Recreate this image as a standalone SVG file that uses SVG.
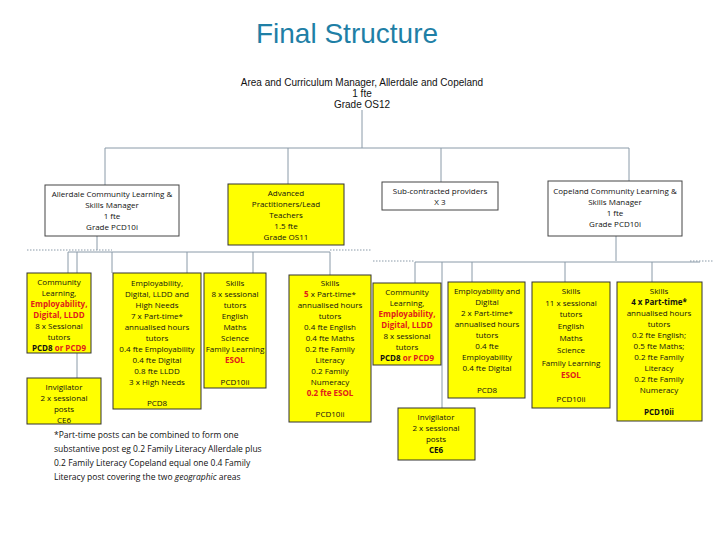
<svg xmlns="http://www.w3.org/2000/svg" width="720" height="540" viewBox="0 0 720 540">
<style>
text{font-family:"Open Sans","Liberation Sans",sans-serif;font-size:8px;fill:#111;text-anchor:middle}
.t{font-family:"Liberation Sans",sans-serif;font-size:28px;fill:#1f7fa6}
.h{font-family:"Liberation Sans",sans-serif;font-size:10px}
.r{fill:#e0201b;font-weight:bold}
.b{font-weight:bold}
.y{fill:#ffff00;stroke:#333;stroke-width:1}
.w{fill:#fff;stroke:#444;stroke-width:1}
.c{stroke:#8a9aa8;stroke-width:1;fill:none}
.d{stroke:#8a9aa8;stroke-width:1;stroke-dasharray:1.5 1.5;fill:none}
.f{text-anchor:start;font-size:8.5px}
</style>
<rect width="720" height="540" fill="#fff"/>
<text class="t" x="347" y="43">Final Structure</text>
<g id="connectors">
<path class="c" d="M362 110V148M105 148H629M105 148V185M288 148V184M441 148V182M629 148V181"/>
<path class="c" d="M97 236V250M68 252H330M68 252V273M77 252V378M112 252V273M187 252V273M253 252V273M330 252V275"/>
<path class="d" d="M27 250H112M330 250H372"/>
<path class="c" d="M616 236V261M415 262H700M415 262V283M442 262V408M472 262V282M565 262V282M652 262V282"/>
<path class="d" d="M373 261H415M690 261H713"/>
</g>
<g id="top"><text class="h" x="362" y="86">Area and Curriculum Manager, Allerdale and Copeland</text><text class="h" x="362" y="97">1 fte</text><text class="h" x="362" y="108">Grade OS12</text></g>
<g id="allerdale"><rect class="w" x="45" y="185" width="134" height="51"/><text x="112" y="197">Allerdale Community Learning &amp;</text><text x="112" y="208">Skills Manager</text><text x="112" y="219">1 fte</text><text x="112" y="230">Grade PCD10i</text></g>
<g id="advanced"><rect class="y" x="228" y="184" width="116" height="61"/><text x="286" y="196">Advanced</text><text x="286" y="207">Practitioners/Lead</text><text x="286" y="218">Teachers</text><text x="286" y="229">1.5 fte</text><text x="286" y="240">Grade OS11</text></g>
<g id="sub"><rect class="w" x="382" y="182" width="116" height="28"/><text x="440" y="194">Sub-contracted providers</text><text x="440" y="205">X 3</text></g>
<g id="copeland"><rect class="w" x="548" y="181" width="134" height="55"/><text x="615" y="194">Copeland Community Learning &amp;</text><text x="615" y="205">Skills Manager</text><text x="615" y="216">1 fte</text><text x="615" y="227">Grade PCD10i</text></g>
<g id="l1"><rect class="y" x="27" y="273" width="64" height="80"/><text x="59" y="285">Community</text><text x="59" y="296">Learning,</text><text x="59" y="307" class="r">Employability,</text><text x="59" y="318" class="r">Digital, LLDD</text><text x="59" y="329">8 x Sessional</text><text x="59" y="340">tutors</text><text x="59" y="351" class="b">PCD8 <tspan class="r">or PCD9</tspan></text></g>
<g id="l2"><rect class="y" x="113" y="273" width="88" height="136"/><text x="157" y="286">Employability,</text><text x="157" y="297">Digital, LLDD and</text><text x="157" y="308">High Needs</text><text x="157" y="319">7 x Part-time*</text><text x="157" y="330">annualised hours</text><text x="157" y="341">tutors</text><text x="157" y="352">0.4 fte Employability</text><text x="157" y="363">0.4 fte Digital</text><text x="157" y="374">0.8 fte LLDD</text><text x="157" y="385">3 x High Needs</text><text x="157" y="406">PCD8</text></g>
<g id="l3"><rect class="y" x="204" y="273" width="62" height="115"/><text x="235" y="286">Skills</text><text x="235" y="297">8 x sessional</text><text x="235" y="308">tutors</text><text x="235" y="319">English</text><text x="235" y="330">Maths</text><text x="235" y="341">Science</text><text x="235" y="352">Family Learning</text><text x="235" y="363" class="r">ESOL</text><text x="235" y="385">PCD10ii</text></g>
<g id="l4"><rect class="y" x="289" y="275" width="82" height="147"/><text x="330" y="286">Skills</text><text x="330" y="297"><tspan class="r">5</tspan> x Part-time*</text><text x="330" y="308">annualised hours</text><text x="330" y="319">tutors</text><text x="330" y="330">0.4 fte English</text><text x="330" y="341">0.4 fte Maths</text><text x="330" y="352">0.2 fte Family</text><text x="330" y="363">Literacy</text><text x="330" y="374">0.2 Family</text><text x="330" y="385">Numeracy</text><text x="330" y="396" class="r">0.2 fte ESOL</text><text x="330" y="417">PCD10ii</text></g>
<g id="l5"><rect class="y" x="27" y="378" width="74" height="46"/><text x="64" y="390">Invigilator</text><text x="64" y="401">2 x sessional</text><text x="64" y="412">posts</text><text x="64" y="423">CE6</text></g>
<g id="r1"><rect class="y" x="373" y="283" width="68" height="82"/><text x="407" y="295">Community</text><text x="407" y="306">Learning,</text><text x="407" y="317" class="r">Employability,</text><text x="407" y="328" class="r">Digital, LLDD</text><text x="407" y="339">8 x sessional</text><text x="407" y="350">tutors</text><text x="407" y="361" class="b">PCD8 <tspan class="r">or PCD9</tspan></text></g>
<g id="r2"><rect class="y" x="448" y="282" width="77" height="116"/><text x="487" y="294">Employability and</text><text x="487" y="305">Digital</text><text x="487" y="316">2 x Part-time*</text><text x="487" y="327">annualised hours</text><text x="487" y="338">tutors</text><text x="487" y="349">0.4 fte</text><text x="487" y="360">Employability</text><text x="487" y="371">0.4 fte Digital</text><text x="487" y="393">PCD8</text></g>
<g id="r3"><rect class="y" x="532" y="282" width="78" height="126"/><text x="571" y="294">Skills</text><text x="571" y="306">11 x sessional</text><text x="571" y="317">tutors</text><text x="571" y="329">English</text><text x="571" y="341">Maths</text><text x="571" y="353">Science</text><text x="571" y="366">Family Learning</text><text x="571" y="378" class="r">ESOL</text><text x="571" y="402">PCD10ii</text></g>
<g id="r4"><rect class="y" x="617" y="282" width="85" height="139"/><text x="659" y="294">Skills</text><text x="659" y="305" class="b">4 x Part-time*</text><text x="659" y="316">annualised hours</text><text x="659" y="327">tutors</text><text x="659" y="338">0.2 fte English;</text><text x="659" y="349">0.5 fte Maths;</text><text x="659" y="360">0.2 fte Family</text><text x="659" y="371">Literacy</text><text x="659" y="382">0.2 fte Family</text><text x="659" y="393">Numeracy</text><text x="659" y="415" class="b">PCD10ii</text></g>
<g id="r5"><rect class="y" x="398" y="408" width="77" height="52"/><text x="436" y="420">Invigilator</text><text x="436" y="431">2 x sessional</text><text x="436" y="442">posts</text><text x="436" y="453" class="b">CE6</text></g>
<g id="note"><text class="f" x="54" y="438">*Part-time posts can be combined to form one</text><text class="f" x="54" y="452">substantive post eg 0.2 Family Literacy Allerdale plus</text><text class="f" x="54" y="466">0.2 Family Literacy Copeland equal one 0.4 Family</text><text class="f" x="54" y="480">Literacy post covering the two <tspan font-style="italic">geographic</tspan> areas</text></g>
</svg>
